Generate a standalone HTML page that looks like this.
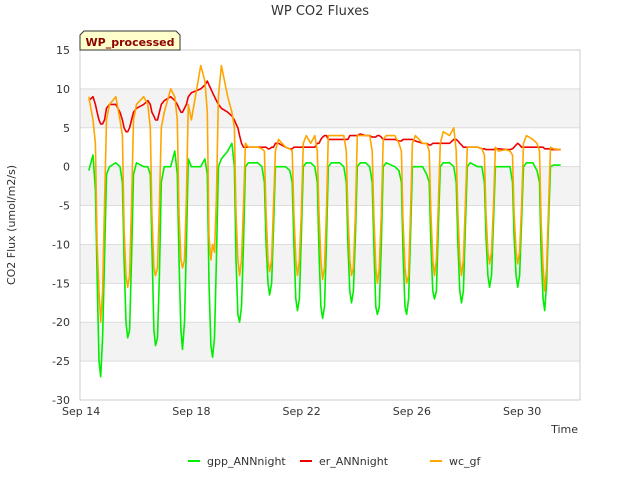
<!DOCTYPE html>
<html><head><meta charset="utf-8"><style>
body{margin:0;background:#fff;font-family:"Liberation Sans","DejaVu Sans",sans-serif}
svg text{font-family:"DejaVu Sans","Liberation Sans",sans-serif}
</style></head><body>
<svg id="chart" width="640" height="480" viewBox="0 0 640 480">
<text x="320" y="15" text-anchor="middle" font-size="13" fill="#333">WP CO2 Fluxes</text>
<g id="bands"></g><g id="grid"></g>
<rect x="80" y="50" width="500" height="350" fill="none" stroke="#ccc"/>
<g id="series"></g><g id="yticks"></g><g id="xticks"></g>
<text x="15" y="225" transform="rotate(-90 15 225)" text-anchor="middle" font-size="11" fill="#333">CO2 Flux (umol/m2/s)</text>
<text x="578" y="433" text-anchor="end" font-size="11" fill="#333">Time</text>
<g>
<path d="M80,50 L80,35 L84,31 L176,31 L180,35 L180,50 Z" fill="#ffffcc" stroke="#333"/>
<text x="130" y="46" text-anchor="middle" font-size="11" font-weight="bold" fill="#8b0000">WP_processed</text>
</g>
<g id="legend"></g>
</svg>
<script>
const yTicks=[15,10,5,0,-5,-10,-15,-20,-25,-30];
const xTickDays=[14,18,22,26,30];
const xTickLabels=["Sep 14","Sep 18","Sep 22","Sep 26","Sep 30"];
const seriesNames=["gpp_ANNnight","er_ANNnight","wc_gf"];
const seriesColors=["#00ee00","#ee0000","#ffa500"];
const days=[14,15,16,17,18,19,20,21,22,23,24,25,26,27,28,29,30,31];
const centers=[.73,.71,.72,.70,.79,.77,.86,.87,.78,.83,.77,.83,.84,.82,.84,.86,.84,.85];
const offsets=[-0.45,-0.3,-0.21,-0.15,-0.08,-0.02,0.05,0.12,0.19,0.3];
const startDay=14.27, endDay=31.42;
const gpp=[
[-0.5,1.5,-3,-14,-25,-27,-22,-12,-1,0],
[0.5,0,-2,-12,-20,-22,-21,-12,-1,0.5],
[0,0,-1,-10,-21,-23,-22,-14,-2,0],
[0,2,-1,-12,-21,-23.5,-20,-10,1,0],
[0,1,-1,-15,-23,-24.5,-22,-12,0,1],
[2,3,0,-12,-19,-20,-18,-10,0,0.5],
[0.5,0,-2,-10,-15,-16.5,-15,-8,0,0],
[0,-0.5,-2,-10,-17,-18.5,-17,-9,0,0.5],
[0.5,0,-2,-11,-18,-19.5,-18,-10,0,0.5],
[0.5,0,-2,-10,-16,-17.5,-16,-9,0,0.5],
[0.5,0,-2,-10,-18,-19,-18,-10,0,0.5],
[0,-0.5,-2,-11,-18,-19,-17,-9,0,0],
[0,-1,-2,-10,-16,-17,-16,-8,0,0.5],
[0.5,0,-2,-10,-16,-17.5,-16,-8,0,0.5],
[0,0,-2,-9,-14,-15.5,-14,-7,0,0],
[0,0,-2,-9,-14,-15.5,-14,-7,0,0.5],
[0.5,-0.5,-2,-11,-17,-18.5,-15,-7,0,0.2],
[0.2,0.3,0.2,0.2,0.2,0.2,0.2,0.2,0.2,0.2]];
const er=[
[8.5,9,8,7,6,5.5,5.5,6,7.5,8],
[8,7,6,5,4.5,4.5,5,6,7,7.5],
[8,8.5,8,7,6.5,6,6,7,8,8.5],
[9,8.5,8,7.5,7,7,7.5,8,9,9.5],
[10,10.5,11,10.5,10,9.5,9,8.5,8,7.5],
[7,6.5,6,5.5,5,4,3,2.5,2.5,2.5],
[2.5,2.5,2.5,2.5,2.3,2.3,2.5,2.5,3,3],
[2.5,2.3,2.3,2.5,2.5,2.5,2.5,2.5,2.5,2.5],
[2.5,2.5,3,3,3.5,3.8,4,4,3.5,3.5],
[3.5,3.5,3.5,3.5,4,4,4,4,4,4.2],
[4,4,3.8,3.8,3.8,4,4,3.8,3.5,3.5],
[3.5,3.3,3.3,3.5,3.5,3.5,3.5,3.5,3.5,3.3],
[3,3,2.8,2.8,3,3,3,3,3,3],
[3,3.5,3.5,3.3,3,2.8,2.5,2.5,2.5,2.5],
[2.5,2.3,2.3,2.2,2.2,2.2,2.2,2.2,2.3,2.3],
[2.2,2.2,2.3,2.5,2.8,3,2.8,2.5,2.5,2.5],
[2.5,2.5,2.5,2.5,2.5,2.3,2.3,2.3,2.2,2.2],
[2.2,2.2,2.2,2.2,2.2,2.2,2.2,2.2,2.2,2.2]];
const wc=[
[9,6,3,-10,-16,-20,-16,-5,6,8],
[9,6,4,-8,-14,-15.5,-14,-5,6,8],
[9,8,5,-6,-13,-14,-13,-5,5,7],
[10,9,6,-6,-12,-13,-12,-4,8,6],
[13,11,7,-9,-12,-10,-11,-4,9,13],
[9,7,5,-6,-12,-14,-12,-5,3,2.5],
[2.5,2.3,2,-6,-12,-13.5,-12,-5,2,3.5],
[2.5,2.3,2,-6,-12,-14,-12,-6,3,4],
[3,4,2,-6,-12,-14.5,-13,-6,4,4],
[4,4,2,-6,-12,-14,-13,-6,4,4],
[4,4,2,-6,-13,-15,-13,-6,3.5,4],
[4,3,2,-7,-13,-15,-14,-6,3,4],
[3,3,2,-6,-12,-14,-12,-5,3,4.5],
[4,5,2,-6,-12,-14,-12,-5,2.5,2.5],
[2.5,2.3,1.5,-6,-11,-12.5,-11,-5,2.5,2],
[2.2,2,1.5,-6,-11,-12.5,-11,-5,3,4],
[3.5,3,2,-7,-13,-16,-13,-5,2.5,2.3],
[2.2,2.2,2.2,2.2,2.2,2.2,2.2,2.2,2.2,2.2]];

const NS="http://www.w3.org/2000/svg";
const X0=80,X1=580,Y0=50,Y1=400,DMIN=13.96,DMAX=32.1,VMIN=-30,VMAX=15;
const xs=d=>X0+(d-DMIN)/(DMAX-DMIN)*(X1-X0);
const ys=v=>Y1-(v-VMIN)/(VMAX-VMIN)*(Y1-Y0);
function mk(t,a,p){const e=document.createElementNS(NS,t);for(const k in a)e.setAttribute(k,a[k]);p.appendChild(e);return e;}
const bands=document.getElementById('bands'),grid=document.getElementById('grid');
for(let i=0;i<yTicks.length-1;i++){
  const top=yTicks[i],bot=yTicks[i+1];
  if(i%2===1){const r=mk('rect',{x:X0,y:ys(top),width:X1-X0,height:ys(bot)-ys(top),fill:'#f3f3f3'},bands);
    
    }
}
const yt=document.getElementById('yticks');
yTicks.forEach(v=>{
  const l=mk('line',{x1:X0,x2:X1,y1:ys(v),y2:ys(v),stroke:'#dddddd'},grid);
  
  
  const t=mk('text',{x:X0-10,y:ys(v)+4,'text-anchor':'end','font-size':'11',fill:'#333'},yt);
  t.textContent=v;
  
  
});
const xt=document.getElementById('xticks');
xTickDays.forEach((d,i)=>{
  const t=mk('text',{x:xs(d),y:415,'text-anchor':'middle','font-size':'11',fill:'#333'},xt);
  t.textContent=xTickLabels[i];
  
  
});
const sg=document.getElementById('series');
[gpp,er,wc].forEach((arr,si)=>{
  const pts=[];
  days.forEach((day,di)=>{
    offsets.forEach((o,oi)=>{
      const t=day+centers[di]+o;
      if(t>=startDay&&t<=endDay)pts.push(xs(t).toFixed(1)+','+ys(arr[di][oi]).toFixed(1));
    });
  });
  const p=mk('polyline',{points:pts.join(' '),fill:'none',stroke:seriesColors[si],'stroke-width':'1.6','stroke-linejoin':'round'},sg);
  
  
});
const lg=document.getElementById('legend');
const lx=[188,300,430];
seriesNames.forEach((n,i)=>{
  const g=mk('g',{},lg);
  
  
  mk('line',{x1:lx[i],x2:lx[i]+12,y1:461,y2:461,stroke:seriesColors[i],'stroke-width':'2'},g);
  const t=mk('text',{x:lx[i]+19,y:465,'font-size':'11',fill:'#333'},g);
  t.textContent=n;
});
</script>
</body></html>
